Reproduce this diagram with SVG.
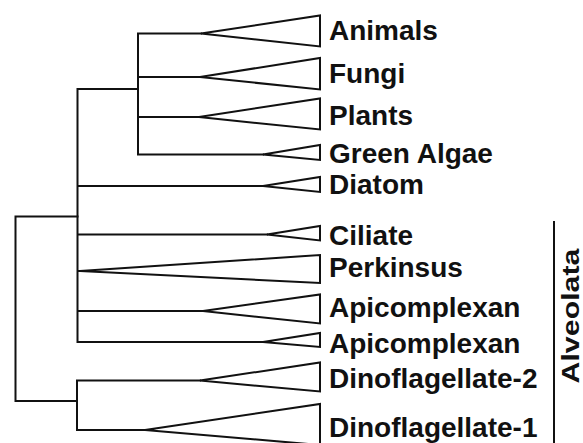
<svg xmlns="http://www.w3.org/2000/svg" width="583" height="443" viewBox="0 0 583 443">
<style>
.ln{fill:none;stroke:#111;stroke-width:2;stroke-linecap:square;stroke-linejoin:miter}
.tri{fill:#fff;stroke:#111;stroke-width:2;stroke-linejoin:miter}
.lb{font-family:"Liberation Sans",Arial,Helvetica,sans-serif;font-weight:bold;font-size:28px;fill:#111}
</style>
<rect width="583" height="443" fill="#fff"/>
<g id="connectors" class="ln">
<path d="M15.5,216.5V401M15.5,216.5H77.5M15.5,401H77"/>
<path d="M77.5,89V342M77.5,89H138M77.5,186H263M77.5,234.5H267M77.5,271H80M77.5,311H203M77.5,342H263"/>
<path d="M138,33.5V154.5M138,33.5H201M138,77H200M138,117H199M138,154.5H263"/>
<path d="M77,380.5V430M77,380.5H200M77,430H145"/>
</g>
<g id="animals"><polygon class="tri" points="201,33.5 320,15.5 320,46.5"/><text class="lb" x="329" y="39.5">Animals</text></g>
<g id="fungi"><polygon class="tri" points="200,77 320,58 320,89.5"/><text class="lb" x="329" y="83">Fungi</text></g>
<g id="plants"><polygon class="tri" points="199,117 320,98.5 320,129.5"/><text class="lb" x="329" y="125">Plants</text></g>
<g id="green-algae"><polygon class="tri" points="263,154.5 320,145 320,160"/><text class="lb" x="329" y="162.5">Green Algae</text></g>
<g id="diatom"><polygon class="tri" points="263,186 320,177 320,192"/><text class="lb" x="329" y="194">Diatom</text></g>
<g id="ciliate"><polygon class="tri" points="267,234.5 320,226 320,240.5"/><text class="lb" x="329" y="244.5">Ciliate</text></g>
<g id="perkinsus"><polygon class="tri" points="80,271 320,255 320,283"/><text class="lb" x="329" y="276.5">Perkinsus</text></g>
<g id="apicomplexan-1"><polygon class="tri" points="203,311 320,294.5 320,323.5"/><text class="lb" x="329" y="316.5">Apicomplexan</text></g>
<g id="apicomplexan-2"><polygon class="tri" points="263,342 320,333 320,347"/><text class="lb" x="329" y="353">Apicomplexan</text></g>
<g id="dinoflagellate-2"><polygon class="tri" points="200,380.5 320,362.5 320,391.5"/><text class="lb" x="329" y="388">Dinoflagellate-2</text></g>
<g id="dinoflagellate-1"><polygon class="tri" points="145,430 320,404 320,445"/><text class="lb" x="329" y="436.5">Dinoflagellate-1</text></g>
<g id="alveolata">
<line class="ln" x1="554" y1="222" x2="554" y2="446" stroke-linecap="butt"/>
<text class="lb" style="font-size:23px" transform="translate(578.5,383.5) rotate(-90)" x="0" y="0" textLength="135" lengthAdjust="spacingAndGlyphs">Alveolata</text>
</g>
</svg>
